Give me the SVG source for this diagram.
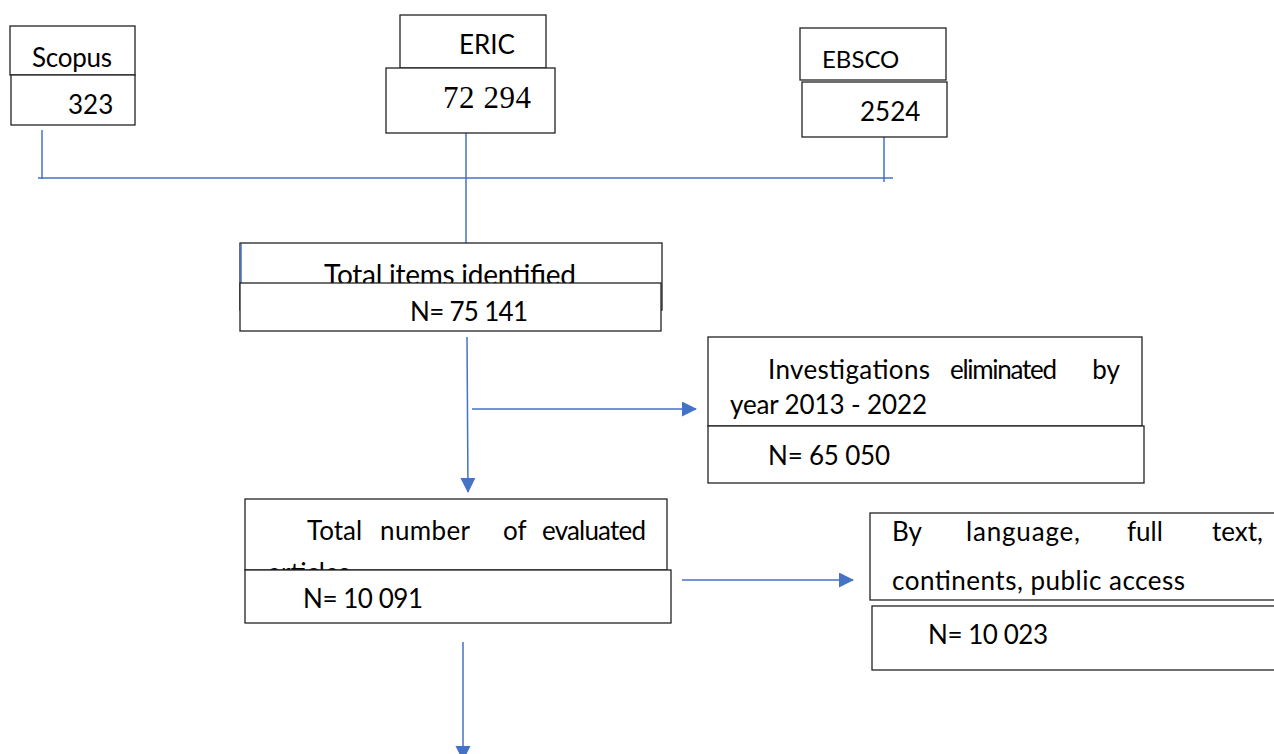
<svg xmlns="http://www.w3.org/2000/svg" width="1274" height="754" viewBox="0 0 1274 754">
<style>
.box{fill:#fff;stroke:#222;stroke-width:1.3}
.t{font-family:Lato,"Liberation Sans",sans-serif;font-size:26px;fill:#000}
.big{font-size:28px}
.serif{font-family:"Liberation Serif",serif;font-size:31px;fill:#000}
.e{text-anchor:end}
.c{stroke:#4472C4;stroke-width:1.5;fill:none}
</style>
<defs>
<marker id="ah" markerWidth="16" markerHeight="16" refX="14" refY="7.5" orient="auto" markerUnits="userSpaceOnUse">
<path d="M0,0 L15,7.5 L0,15 z" fill="#4472C4"/>
</marker>
</defs>
<rect width="1274" height="754" fill="#fff"/>
<g id="connectors">
<line class="c" x1="42" y1="130" x2="42" y2="179"/>
<line class="c" x1="38" y1="178" x2="893" y2="178"/>
<line class="c" x1="466" y1="133" x2="466" y2="243"/>
<line class="c" x1="884" y1="123" x2="884" y2="182"/>
<line class="c" x1="467" y1="337" x2="468" y2="492" marker-end="url(#ah)"/>
<line class="c" x1="472" y1="409" x2="696" y2="409" marker-end="url(#ah)"/>
<line class="c" x1="682" y1="580" x2="853" y2="580" marker-end="url(#ah)"/>
<line class="c" x1="463" y1="642" x2="463" y2="760" marker-end="url(#ah)"/>
</g>
<g id="scopus">
<rect class="box" x="10" y="26" width="125" height="49"/>
<text class="t" x="32" y="67" textLength="80">Scopus</text>
<rect class="box" x="11" y="75" width="124" height="50"/>
<text class="t" x="68" y="114">323</text>
</g>
<g id="eric">
<rect class="box" x="400" y="15" width="146" height="53"/>
<text class="t" x="459" y="54">ERIC</text>
<rect class="box" x="386" y="68" width="169" height="65"/>
<text class="serif" x="443" y="108" textLength="88">72 294</text>
</g>
<g id="ebsco">
<rect class="box" x="800" y="28" width="146" height="52"/>
<text class="t" x="822" y="68" style="font-size:24px">EBSCO</text>
<rect class="box" x="802" y="82" width="145" height="55"/>
<text class="t" x="860" y="121">2524</text>
</g>
<g id="total-items">
<rect class="box" x="240" y="243" width="422" height="67"/>
<line class="c" x1="241" y1="244" x2="241" y2="283"/>
<text class="t big" x="324" y="285" textLength="252">Total items identified</text>
<rect class="box" x="240" y="283" width="421" height="48"/>
<text class="t" x="410" y="321" textLength="118">N= 75 141</text>
</g>
<g id="eliminated-year">
<rect class="box" x="708" y="337" width="434" height="89"/>
<text class="t" x="768" y="379" textLength="162">Investigations</text>
<text class="t" x="950" y="379" textLength="107">eliminated</text>
<text class="t e" x="1120" y="379">by</text>
<text class="t" x="730" y="414" textLength="197">year 2013 - 2022</text>
<rect class="box" x="708" y="426" width="436" height="57"/>
<text class="t" x="768" y="465" textLength="122">N= 65 050</text>
</g>
<g id="evaluated">
<rect class="box" x="245" y="499" width="422" height="71"/>
<text class="t" x="307" y="540">Total</text>
<text class="t" x="380" y="540" textLength="90">number</text>
<text class="t" x="503" y="540">of</text>
<text class="t" x="542" y="540" textLength="104">evaluated</text>
<text class="t" x="268" y="582">articles</text>
<rect class="box" x="245" y="570" width="426" height="53"/>
<text class="t" x="303" y="608" textLength="120">N= 10 091</text>
</g>
<g id="language">
<rect class="box" x="870" y="513" width="410" height="87"/>
<text class="t" x="892" y="541">By</text>
<text class="t" x="966" y="541" textLength="114">language,</text>
<text class="t" x="1127" y="541">full</text>
<text class="t e" x="1263" y="541">text,</text>
<text class="t" x="892" y="590" textLength="293">continents, public access</text>
<rect class="box" x="872" y="606" width="410" height="64"/>
<text class="t" x="928" y="644" textLength="120">N= 10 023</text>
</g>
</svg>
